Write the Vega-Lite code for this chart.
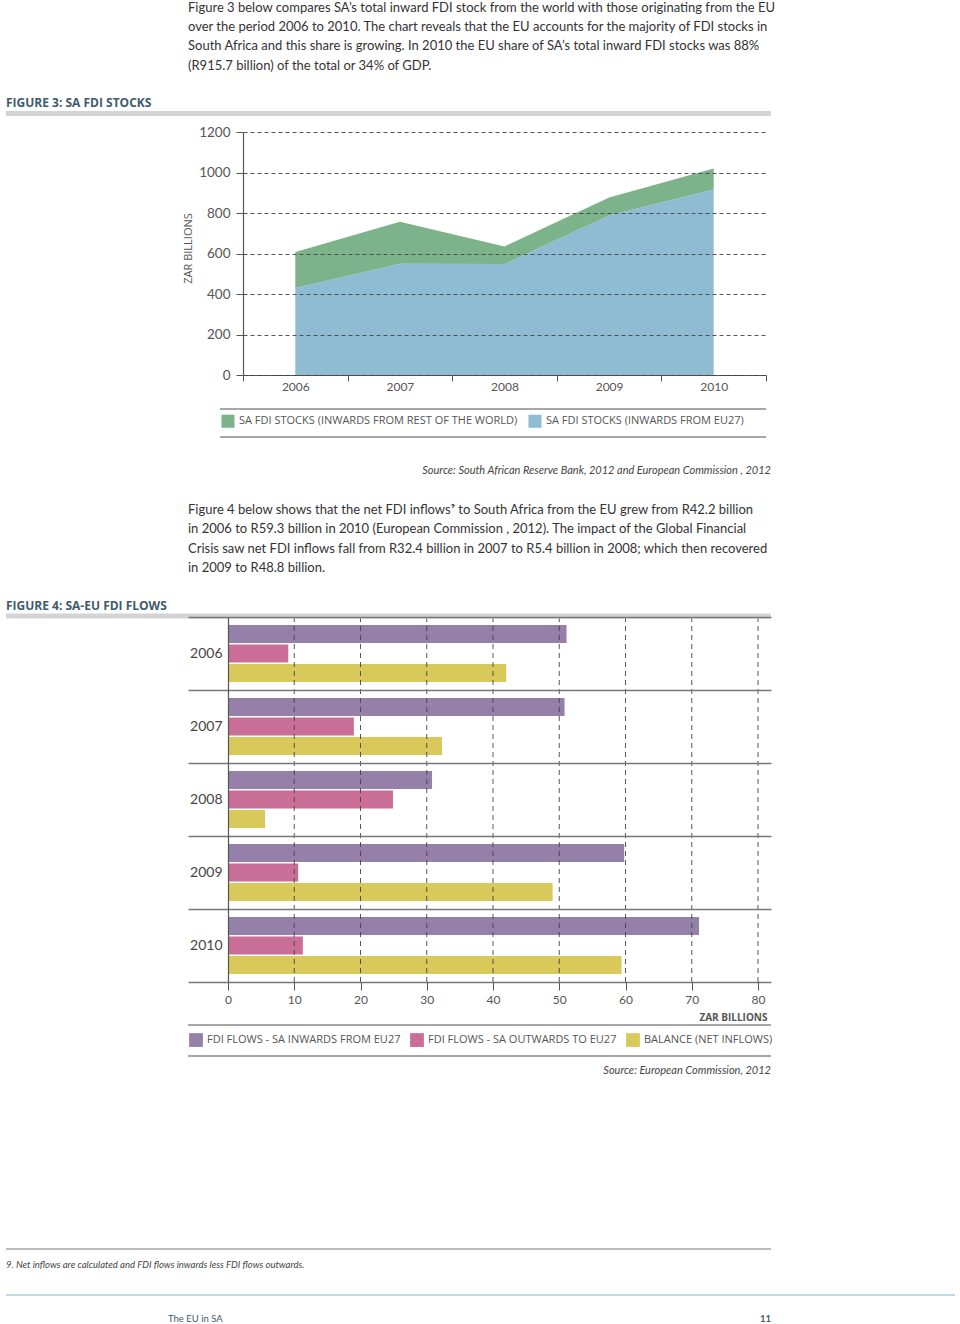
{
  "$schema": "https://vega.github.io/schema/vega-lite/v6.json",
  "width": 960,
  "height": 1324,
  "autosize": {"type": "none"},
  "padding": 0,
  "background": "white",
  "config": {
    "view": {"stroke": null},
    "font": "Lato",
    "axis": {"labelFont": "Lato", "titleFont": "Open Sans", "labelColor": "#555555", "domainColor": "#555555", "tickColor": "#555555"}
  },
  "datasets": {
    "stocks": [
      {"year": "2006", "series": "SA FDI STOCKS (INWARDS FROM EU27)", "value": 430},
      {"year": "2007", "series": "SA FDI STOCKS (INWARDS FROM EU27)", "value": 550},
      {"year": "2008", "series": "SA FDI STOCKS (INWARDS FROM EU27)", "value": 548},
      {"year": "2009", "series": "SA FDI STOCKS (INWARDS FROM EU27)", "value": 788},
      {"year": "2010", "series": "SA FDI STOCKS (INWARDS FROM EU27)", "value": 916},
      {"year": "2006", "series": "SA FDI STOCKS (INWARDS FROM REST OF THE WORLD)", "value": 177},
      {"year": "2007", "series": "SA FDI STOCKS (INWARDS FROM REST OF THE WORLD)", "value": 207},
      {"year": "2008", "series": "SA FDI STOCKS (INWARDS FROM REST OF THE WORLD)", "value": 87},
      {"year": "2009", "series": "SA FDI STOCKS (INWARDS FROM REST OF THE WORLD)", "value": 89},
      {"year": "2010", "series": "SA FDI STOCKS (INWARDS FROM REST OF THE WORLD)", "value": 104}
    ],
    "flows": [
      {"year": "2006", "series": "FDI FLOWS - SA INWARDS FROM EU27", "value": 51.1},
      {"year": "2006", "series": "FDI FLOWS - SA OUTWARDS TO EU27", "value": 9.1},
      {"year": "2006", "series": "BALANCE (NET INFLOWS)", "value": 42.0},
      {"year": "2007", "series": "FDI FLOWS - SA INWARDS FROM EU27", "value": 50.8},
      {"year": "2007", "series": "FDI FLOWS - SA OUTWARDS TO EU27", "value": 19.0},
      {"year": "2007", "series": "BALANCE (NET INFLOWS)", "value": 32.3},
      {"year": "2008", "series": "FDI FLOWS - SA INWARDS FROM EU27", "value": 30.8},
      {"year": "2008", "series": "FDI FLOWS - SA OUTWARDS TO EU27", "value": 24.9},
      {"year": "2008", "series": "BALANCE (NET INFLOWS)", "value": 5.6},
      {"year": "2009", "series": "FDI FLOWS - SA INWARDS FROM EU27", "value": 59.8},
      {"year": "2009", "series": "FDI FLOWS - SA OUTWARDS TO EU27", "value": 10.6},
      {"year": "2009", "series": "BALANCE (NET INFLOWS)", "value": 49.0},
      {"year": "2010", "series": "FDI FLOWS - SA INWARDS FROM EU27", "value": 71.1},
      {"year": "2010", "series": "FDI FLOWS - SA OUTWARDS TO EU27", "value": 11.3},
      {"year": "2010", "series": "BALANCE (NET INFLOWS)", "value": 59.4}
    ],
    "flowticks": [
      {"value": 10}, {"value": 20}, {"value": 30}, {"value": 40}, {"value": 50}, {"value": 60}, {"value": 70}, {"value": 80}
    ]
  },
  "layer": [
    {
      "data": {"name": "stocks"},
      "mark": {"type": "area", "opacity": 1, "interpolate": "linear"},
      "encoding": {
        "x": {
          "field": "year", "type": "ordinal", "bandPosition": 0.5,
          "scale": {"type": "band", "range": [243, 766], "paddingInner": 0, "paddingOuter": 0},
          "axis": {"orient": "bottom", "offset": -949, "title": null, "labelAngle": 0, "tickBand": "extent", "tickSize": 6, "labelPadding": 0, "labelFontSize": 12, "grid": false, "domainWidth": 1.2}
        },
        "y": {
          "field": "value", "type": "quantitative", "stack": "zero",
          "scale": {"domain": [0, 1200], "range": [375, 132], "nice": false},
          "axis": {"orient": "left", "offset": -243, "values": [0, 200, 400, 600, 800, 1000, 1200], "format": "d", "grid": true, "gridDash": [4, 3], "gridColor": "#444444", "gridWidth": 0.9, "tickSize": 7, "labelPadding": 6, "labelFontSize": 13.5, "labelFlush": false, "domainWidth": 1.2, "zindex": 1,
            "title": "ZAR BILLIONS", "titleX": -55, "titleY": 248, "titleAngle": -90, "titleAlign": "center", "titleBaseline": "middle", "titleFontSize": 11, "titleFontWeight": "normal", "titleColor": "#555555"}
        },
        "color": {
          "field": "series", "type": "nominal",
          "scale": {"domain": ["SA FDI STOCKS (INWARDS FROM REST OF THE WORLD)", "SA FDI STOCKS (INWARDS FROM EU27)"], "range": ["#7db38a", "#8fbbd3"]},
          "legend": {"orient": "none", "legendX": 221, "legendY": 414, "direction": "horizontal", "columns": 2, "title": null, "symbolType": "square", "symbolSize": 170, "symbolStrokeWidth": 0, "symbolOpacity": 1, "labelFont": "Open Sans", "labelFontSize": 11, "labelColor": "#555555", "labelOffset": 4, "columnPadding": 10, "padding": 0, "labelLimit": 400}
        },
        "order": {"field": "series", "sort": "ascending"}
      }
    },
    {
      "layer": [
        {
          "data": {"name": "flows"},
          "mark": {"type": "bar"},
          "encoding": {
            "y": {
              "field": "year", "type": "ordinal",
              "scale": {"type": "band", "range": [617, 982], "paddingInner": 0, "paddingOuter": 0},
              "axis": {"orient": "left", "offset": -228, "title": null, "tickBand": "extent", "tickSize": 40, "tickColor": "#777777", "tickWidth": 1.3, "labelPadding": -34, "labelFontSize": 14, "labelColor": "#444444", "grid": true, "gridColor": "#777777", "gridWidth": 1.3, "domainWidth": 1.2, "zindex": 1}
            },
            "x": {
              "field": "value", "type": "quantitative",
              "scale": {"domain": [0, 81.96], "range": [228, 771], "nice": false, "zero": true},
              "axis": {"orient": "bottom", "offset": -342, "values": [0, 10, 20, 30, 40, 50, 60, 70, 80], "grid": false, "tickSize": 8, "labelPadding": 4, "labelFontSize": 12, "labelFlush": false, "domain": false, "zindex": 1,
                "title": "ZAR BILLIONS", "titleX": 767, "titleY": 35, "titleAlign": "right", "titleAnchor": null, "titleBaseline": "middle", "titleFontSize": 10, "titleFontWeight": "bold", "titleColor": "#555555"}
            },
            "yOffset": {
              "field": "series", "type": "nominal",
              "scale": {"domain": ["FDI FLOWS - SA INWARDS FROM EU27", "FDI FLOWS - SA OUTWARDS TO EU27", "BALANCE (NET INFLOWS)"], "paddingInner": 0.08, "paddingOuter": 0.41}
            },
            "color": {
              "field": "series", "type": "nominal",
              "scale": {"domain": ["FDI FLOWS - SA INWARDS FROM EU27", "FDI FLOWS - SA OUTWARDS TO EU27", "BALANCE (NET INFLOWS)"], "range": ["#9480a9", "#c96e97", "#d9c95b"]},
              "legend": {"orient": "none", "legendX": 189, "legendY": 1033, "direction": "horizontal", "columns": 3, "title": null, "symbolType": "square", "symbolSize": 190, "symbolStrokeWidth": 0, "symbolOpacity": 1, "labelFont": "Open Sans", "labelFontSize": 11, "labelColor": "#555555", "labelOffset": 4, "columnPadding": 9, "padding": 0, "labelLimit": 400}
            }
          }
        },
        {
          "data": {"name": "flowticks"},
          "mark": {"type": "rule", "strokeDash": [5, 4], "color": "#444444", "strokeWidth": 0.9},
          "encoding": {
            "x": {"field": "value", "type": "quantitative"},
            "y": {"value": 617},
            "y2": {"value": 982}
          }
        }
      ]
    },
    {"data": {"values": [{}]}, "mark": {"type": "rule", "color": "#d4d4d4", "strokeWidth": 5}, "encoding": {"x": {"value": 6}, "x2": {"value": 771}, "y": {"value": 113.5}}},
    {"data": {"values": [{}]}, "mark": {"type": "rule", "color": "#d4d4d4", "strokeWidth": 5}, "encoding": {"x": {"value": 6}, "x2": {"value": 771}, "y": {"value": 616}}},
    {"data": {"values": [{}]}, "mark": {"type": "rule", "color": "#8a8a8a", "strokeWidth": 1.5}, "encoding": {"x": {"value": 220}, "x2": {"value": 766}, "y": {"value": 409}}},
    {"data": {"values": [{}]}, "mark": {"type": "rule", "color": "#8a8a8a", "strokeWidth": 1.5}, "encoding": {"x": {"value": 220}, "x2": {"value": 766}, "y": {"value": 437}}},
    {"data": {"values": [{}]}, "mark": {"type": "rule", "color": "#8a8a8a", "strokeWidth": 1.5}, "encoding": {"x": {"value": 188}, "x2": {"value": 771}, "y": {"value": 1025}}},
    {"data": {"values": [{}]}, "mark": {"type": "rule", "color": "#8a8a8a", "strokeWidth": 1.5}, "encoding": {"x": {"value": 188}, "x2": {"value": 771}, "y": {"value": 1056}}},
    {"data": {"values": [{}]}, "mark": {"type": "rule", "color": "#7a7a7a", "strokeWidth": 1}, "encoding": {"x": {"value": 6}, "x2": {"value": 771}, "y": {"value": 1249}}},
    {"data": {"values": [{}]}, "mark": {"type": "rule", "color": "#a9d0da", "strokeWidth": 1.5}, "encoding": {"x": {"value": 6}, "x2": {"value": 955}, "y": {"value": 1295}}},
    {"data": {"values": [{}]}, "mark": {"type": "text", "align": "left", "baseline": "alphabetic", "fontSize": 13, "lineHeight": 19.4, "color": "#333333", "font": "Lato"},
      "encoding": {"x": {"value": 188}, "y": {"value": 11.5}, "text": {"value": ["Figure 3 below compares SA’s total inward FDI stock from the world with those originating from the EU", "over the period 2006 to 2010. The chart reveals that the EU accounts for the majority of FDI stocks in", "South Africa and this share is growing. In 2010 the EU share of SA’s total inward FDI stocks was 88%", "(R915.7 billion) of the total or 34% of GDP."]}}},
    {"data": {"values": [{}]}, "mark": {"type": "text", "align": "left", "baseline": "alphabetic", "fontSize": 13, "lineHeight": 19.4, "color": "#333333", "font": "Lato"},
      "encoding": {"x": {"value": 188}, "y": {"value": 514}, "text": {"value": ["Figure 4 below shows that the net FDI inflows⁹ to South Africa from the EU grew from R42.2 billion", "in 2006 to R59.3 billion in 2010 (European Commission , 2012).  The impact of the Global Financial", "Crisis saw net FDI inflows fall from R32.4 billion in 2007 to R5.4 billion in 2008; which then recovered", "in 2009 to R48.8 billion."]}}},
    {"data": {"values": [{}]}, "mark": {"type": "text", "align": "left", "baseline": "middle", "fontSize": 12, "fontWeight": "bold", "color": "#3d5b6e", "font": "Open Sans"},
      "encoding": {"x": {"value": 6}, "y": {"value": 103}, "text": {"value": "FIGURE 3: SA FDI STOCKS"}}},
    {"data": {"values": [{}]}, "mark": {"type": "text", "align": "left", "baseline": "middle", "fontSize": 12, "fontWeight": "bold", "color": "#3d5b6e", "font": "Open Sans"},
      "encoding": {"x": {"value": 6}, "y": {"value": 606}, "text": {"value": "FIGURE 4: SA-EU FDI FLOWS"}}},
    {"data": {"values": [{}]}, "mark": {"type": "text", "align": "right", "baseline": "middle", "fontSize": 11, "fontStyle": "italic", "color": "#444444", "font": "Lato"},
      "encoding": {"x": {"value": 771}, "y": {"value": 471}, "text": {"value": "Source: South African Reserve Bank, 2012  and European Commission , 2012"}}},
    {"data": {"values": [{}]}, "mark": {"type": "text", "align": "right", "baseline": "middle", "fontSize": 11, "fontStyle": "italic", "color": "#444444", "font": "Lato"},
      "encoding": {"x": {"value": 771}, "y": {"value": 1071}, "text": {"value": "Source: European Commission, 2012"}}},
    {"data": {"values": [{}]}, "mark": {"type": "text", "align": "left", "baseline": "middle", "fontSize": 9.5, "fontStyle": "italic", "color": "#444444", "font": "Lato"},
      "encoding": {"x": {"value": 6}, "y": {"value": 1265}, "text": {"value": "9. Net inflows are calculated and FDI flows inwards less FDI flows outwards."}}},
    {"data": {"values": [{}]}, "mark": {"type": "text", "align": "left", "baseline": "middle", "fontSize": 9.5, "color": "#3d5b6e", "font": "Lato"},
      "encoding": {"x": {"value": 168}, "y": {"value": 1319}, "text": {"value": "The EU in SA"}}},
    {"data": {"values": [{}]}, "mark": {"type": "text", "align": "right", "baseline": "middle", "fontSize": 9.5, "fontWeight": "bold", "color": "#3d5b6e", "font": "Lato"},
      "encoding": {"x": {"value": 771}, "y": {"value": 1319}, "text": {"value": "11"}}}
  ],
  "resolve": {
    "scale": {"x": "independent", "y": "independent", "color": "independent", "yOffset": "independent"},
    "axis": {"x": "independent", "y": "independent"},
    "legend": {"color": "independent"}
  }
}
